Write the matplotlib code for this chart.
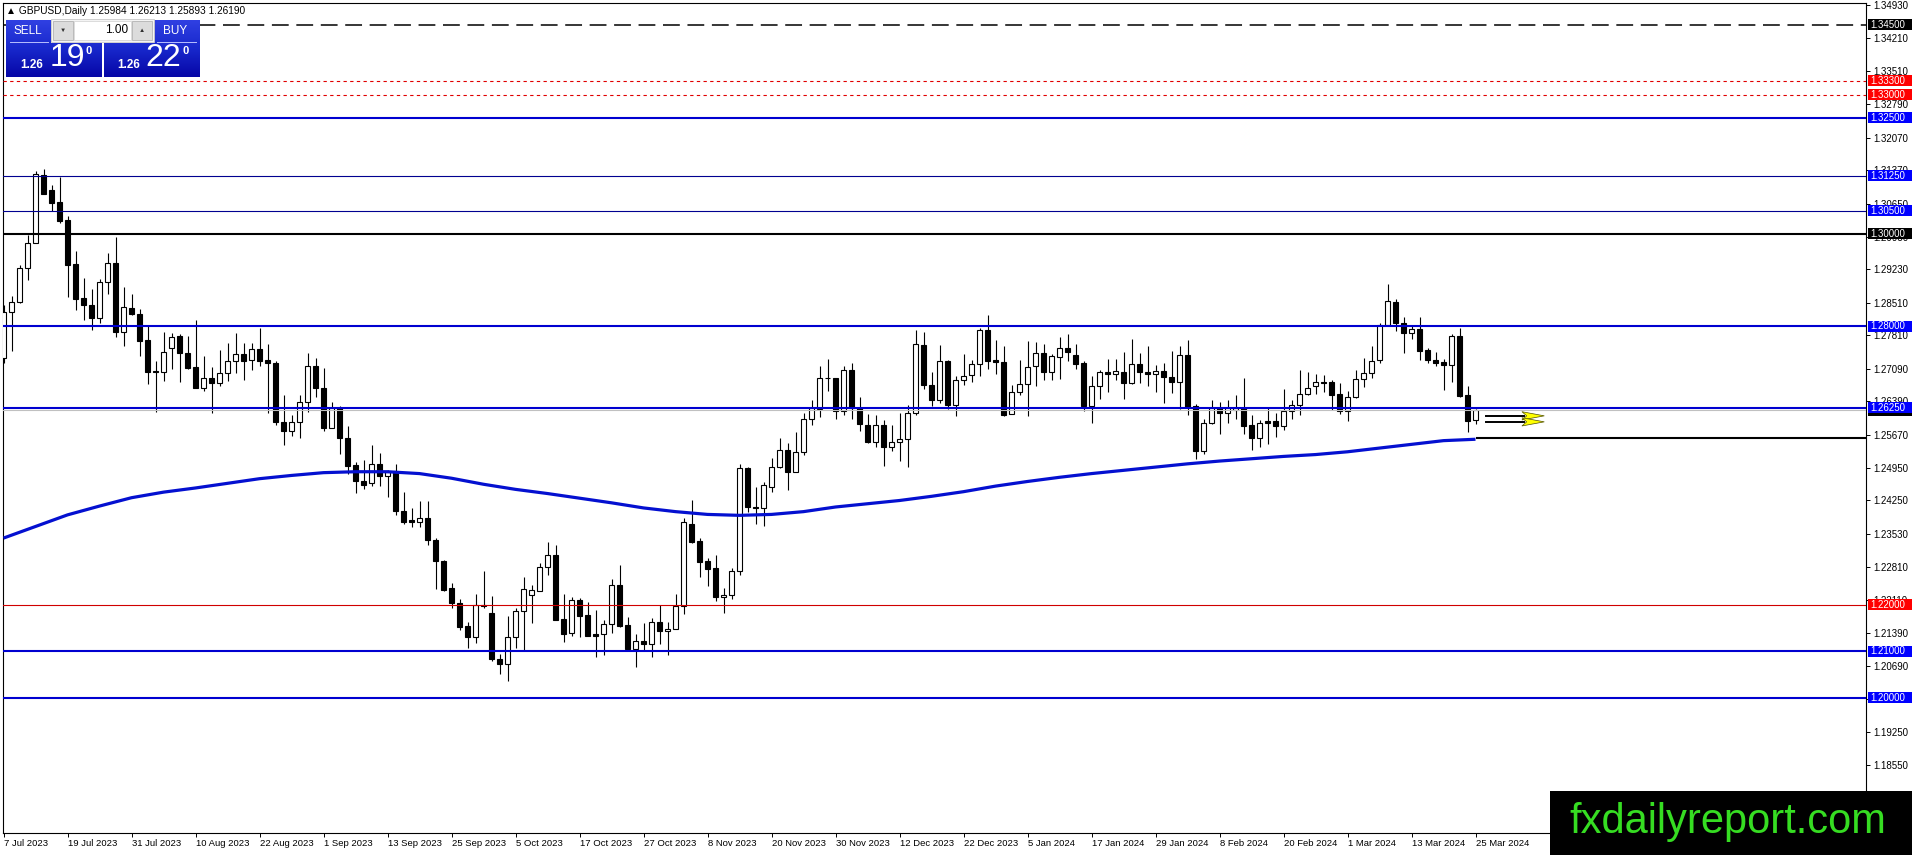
import numpy as np
import matplotlib
matplotlib.use('Agg')
import matplotlib.pyplot as plt
from matplotlib.patches import Rectangle, Polygon
from matplotlib.colors import LinearSegmentedColormap

plt.rcParams['font.family'] = ['Liberation Sans', 'DejaVu Sans']

# daily GBPUSD candles, 7 Jul 2023 .. 25 Mar 2024
opens = [1.2733, 1.2832, 1.2853, 1.2925, 1.2981, 1.3126, 1.3094, 1.3068, 1.3029, 1.2934,
         1.2861, 1.2846, 1.2819, 1.2895, 1.2936, 1.2789, 1.2839, 1.2828, 1.2771, 1.2705,
         1.2703, 1.2753, 1.2779, 1.2742, 1.2712, 1.2668, 1.2688, 1.2679, 1.2699, 1.2726,
         1.2741, 1.2728, 1.2751, 1.2728, 1.2722, 1.2595, 1.2574, 1.2595, 1.2638, 1.2714,
         1.2667, 1.2582, 1.2624, 1.2559, 1.2502, 1.2466, 1.2462, 1.2504, 1.2477, 1.2487,
         1.2403, 1.2383, 1.2378, 1.2387, 1.2340, 1.2295, 1.2236, 1.2205, 1.2154, 1.2130,
         1.2200, 1.2182, 1.2083, 1.2072, 1.2130, 1.2186, 1.2222, 1.2231, 1.2281, 1.2308,
         1.2169, 1.2139, 1.2211, 1.2178, 1.2137, 1.2137, 1.2159, 1.2243, 1.2157, 1.2105,
         1.2122, 1.2115, 1.2163, 1.2143, 1.2148, 1.2198, 1.2375, 1.2338, 1.2295, 1.2279,
         1.2217, 1.2222, 1.2272, 1.2495, 1.2410, 1.2408, 1.2455, 1.2498, 1.2534, 1.2487,
         1.2529, 1.2600, 1.2622, 1.2689, 1.2689, 1.2617, 1.2707, 1.2624, 1.2588, 1.2552,
         1.2588, 1.2540, 1.2551, 1.2557, 1.2613, 1.2760, 1.2674, 1.2641, 1.2726, 1.2631,
         1.2684, 1.2696, 1.2719, 1.2793, 1.2727, 1.2724, 1.2611, 1.2658, 1.2676, 1.2714,
         1.2743, 1.2703, 1.2735, 1.2753, 1.2739, 1.2722, 1.2629, 1.2671, 1.2702, 1.2697,
         1.2703, 1.2679, 1.2719, 1.2703, 1.2698, 1.2704, 1.2692, 1.2681, 1.2739, 1.2628,
         1.2531, 1.2592, 1.2624, 1.2613, 1.2620, 1.2624, 1.2588, 1.2559, 1.2596, 1.2597,
         1.2586, 1.2618, 1.2631, 1.2654, 1.2671, 1.2680, 1.2680, 1.2654, 1.2617, 1.2648,
         1.2686, 1.2699, 1.2727, 1.2804, 1.2852, 1.2807, 1.2787, 1.2794, 1.2750, 1.2728,
         1.2723, 1.2716, 1.2780, 1.2653, 1.25984]
highs = [1.2846, 1.2866, 1.2932, 1.2997, 1.3136, 1.3139, 1.3105, 1.3123, 1.3038, 1.2963,
         1.2904, 1.2880, 1.2902, 1.2958, 1.2992, 1.2886, 1.2870, 1.2837, 1.2803, 1.2726,
         1.2789, 1.2787, 1.2784, 1.2779, 1.2814, 1.2736, 1.2712, 1.2749, 1.2765, 1.2787,
         1.2765, 1.2765, 1.2797, 1.2762, 1.2726, 1.2653, 1.2610, 1.2653, 1.2743, 1.2732,
         1.2710, 1.2638, 1.2629, 1.2586, 1.2507, 1.2513, 1.2545, 1.2527, 1.2490, 1.2504,
         1.2444, 1.2408, 1.2423, 1.2423, 1.2344, 1.2297, 1.2248, 1.2212, 1.2164, 1.2224,
         1.2272, 1.2220, 1.2095, 1.2176, 1.2193, 1.2261, 1.2243, 1.2290, 1.2335, 1.2329,
         1.2224, 1.2217, 1.2214, 1.2207, 1.2189, 1.2168, 1.2255, 1.2286, 1.2173, 1.2137,
         1.2162, 1.2171, 1.2200, 1.2164, 1.2224, 1.2387, 1.2426, 1.2344, 1.2301, 1.2308,
         1.2236, 1.2279, 1.2504, 1.2497, 1.2455, 1.2464, 1.2516, 1.2560, 1.2548, 1.2572,
         1.2613, 1.2642, 1.2714, 1.2730, 1.2690, 1.2714, 1.2722, 1.2648, 1.2612, 1.2610,
         1.2599, 1.2588, 1.2613, 1.2631, 1.2793, 1.2788, 1.2703, 1.2760, 1.2728, 1.2694,
         1.2741, 1.2728, 1.2796, 1.2825, 1.2771, 1.2758, 1.2674, 1.2728, 1.2769, 1.2766,
         1.2763, 1.2741, 1.2778, 1.2784, 1.2763, 1.2725, 1.2694, 1.2707, 1.2730, 1.2730,
         1.2745, 1.2773, 1.2743, 1.2757, 1.2717, 1.2721, 1.2748, 1.2757, 1.2770, 1.2633,
         1.2600, 1.2641, 1.2638, 1.2641, 1.2653, 1.2689, 1.2610, 1.2599, 1.2624, 1.2613,
         1.2665, 1.2641, 1.2707, 1.2701, 1.2698, 1.2696, 1.2684, 1.2678, 1.2660, 1.2707,
         1.2732, 1.2758, 1.2807, 1.2892, 1.2859, 1.2820, 1.2801, 1.2820, 1.2753, 1.2744,
         1.2730, 1.2784, 1.2796, 1.2672, 1.26213]
lows = [1.2721, 1.2748, 1.2851, 1.2900, 1.2981, 1.3085, 1.3050, 1.3024, 1.2864, 1.2835,
        1.2813, 1.2792, 1.2807, 1.2870, 1.2778, 1.2758, 1.2825, 1.2736, 1.2677, 1.2616,
        1.2683, 1.2708, 1.2681, 1.2708, 1.2667, 1.2662, 1.2613, 1.2672, 1.2683, 1.2699,
        1.2685, 1.2706, 1.2715, 1.2613, 1.2588, 1.2545, 1.2563, 1.2559, 1.2615, 1.2649,
        1.2574, 1.2582, 1.2526, 1.2482, 1.2442, 1.2449, 1.2457, 1.2457, 1.2432, 1.2394,
        1.2375, 1.2367, 1.2367, 1.2329, 1.2234, 1.2229, 1.2193, 1.2146, 1.2108, 1.2118,
        1.2193, 1.2080, 1.2051, 1.2035, 1.2107, 1.2102, 1.2161, 1.2229, 1.2265, 1.2168,
        1.2119, 1.2133, 1.2130, 1.2134, 1.2087, 1.2092, 1.2140, 1.2152, 1.2102, 1.2067,
        1.2102, 1.2087, 1.2116, 1.2092, 1.2148, 1.2181, 1.2334, 1.2260, 1.2240, 1.2209,
        1.2183, 1.2212, 1.2265, 1.2401, 1.2375, 1.2371, 1.2443, 1.2495, 1.2447, 1.2487,
        1.2523, 1.2588, 1.2605, 1.2662, 1.2600, 1.2610, 1.2601, 1.2574, 1.2549, 1.2541,
        1.2500, 1.2531, 1.2511, 1.2497, 1.2610, 1.2665, 1.2628, 1.2636, 1.2622, 1.2607,
        1.2674, 1.2681, 1.2694, 1.2708, 1.2698, 1.2607, 1.2611, 1.2653, 1.2608, 1.2671,
        1.2685, 1.2684, 1.2687, 1.2725, 1.2709, 1.2617, 1.2593, 1.2644, 1.2658, 1.2684,
        1.2644, 1.2676, 1.2679, 1.2672, 1.2658, 1.2636, 1.2656, 1.2622, 1.2610, 1.2514,
        1.2526, 1.2590, 1.2569, 1.2593, 1.2600, 1.2569, 1.2533, 1.2540, 1.2547, 1.2561,
        1.2576, 1.2600, 1.2610, 1.2653, 1.2655, 1.2658, 1.2619, 1.2612, 1.2597, 1.2646,
        1.2669, 1.2689, 1.2721, 1.2801, 1.2791, 1.2743, 1.2773, 1.2727, 1.2722, 1.2714,
        1.2664, 1.2681, 1.2649, 1.2572, 1.25893]
closes = [1.2832, 1.2853, 1.2925, 1.2981, 1.3129, 1.3085, 1.3067, 1.3027, 1.2932, 1.2859,
          1.2846, 1.2819, 1.2895, 1.2936, 1.2789, 1.2843, 1.2827, 1.2769, 1.2703, 1.2703,
          1.2744, 1.2778, 1.2742, 1.2710, 1.2668, 1.2688, 1.2679, 1.2699, 1.2726, 1.2741,
          1.2726, 1.2751, 1.2726, 1.2721, 1.2595, 1.2574, 1.2595, 1.2638, 1.2714, 1.2667,
          1.2582, 1.2624, 1.2559, 1.2500, 1.2466, 1.2459, 1.2504, 1.2477, 1.2486, 1.2403,
          1.2378, 1.2379, 1.2387, 1.2339, 1.2294, 1.2232, 1.2204, 1.2153, 1.2130, 1.2200,
          1.2198, 1.2083, 1.2072, 1.2130, 1.2186, 1.2234, 1.2232, 1.2281, 1.2308, 1.2168,
          1.2137, 1.2211, 1.2177, 1.2134, 1.2134, 1.2159, 1.2243, 1.2155, 1.2105, 1.2122,
          1.2115, 1.2163, 1.2143, 1.2148, 1.2198, 1.2378, 1.2336, 1.2293, 1.2278, 1.2217,
          1.2222, 1.2272, 1.2495, 1.2410, 1.2408, 1.2459, 1.2498, 1.2534, 1.2487, 1.2529,
          1.2600, 1.2624, 1.2689, 1.2688, 1.2617, 1.2707, 1.2624, 1.2590, 1.2552, 1.2588,
          1.2541, 1.2551, 1.2557, 1.2613, 1.2762, 1.2673, 1.2641, 1.2726, 1.2631, 1.2685,
          1.2694, 1.2720, 1.2793, 1.2726, 1.2724, 1.2610, 1.2658, 1.2676, 1.2712, 1.2743,
          1.2703, 1.2737, 1.2753, 1.2746, 1.2720, 1.2629, 1.2671, 1.2702, 1.2697, 1.2704,
          1.2679, 1.2719, 1.2701, 1.2698, 1.2704, 1.2692, 1.2681, 1.2739, 1.2626, 1.2531,
          1.2592, 1.2624, 1.2613, 1.2624, 1.2624, 1.2586, 1.2559, 1.2593, 1.2593, 1.2586,
          1.2618, 1.2631, 1.2654, 1.2667, 1.2680, 1.2679, 1.2653, 1.2617, 1.2648, 1.2686,
          1.2699, 1.2726, 1.2804, 1.2854, 1.2807, 1.2787, 1.2794, 1.2748, 1.2728, 1.2722,
          1.2716, 1.2780, 1.2651, 1.2597, 1.26190]

# moving average read every 4 bars
ma_index = list(range(0, 185, 4))
ma_values = [1.2344, 1.2369, 1.2394, 1.2413, 1.2431, 1.2443, 1.2452, 1.2462, 1.2472, 1.2479,
             1.2485, 1.2487, 1.2487, 1.2483, 1.2473, 1.2460, 1.2449, 1.2440, 1.2430, 1.2420,
             1.2409, 1.2401, 1.2395, 1.2393, 1.2395, 1.2401, 1.2411, 1.2418, 1.2425, 1.2434,
             1.2444, 1.2456, 1.2466, 1.2475, 1.2483, 1.2490, 1.2497, 1.2504, 1.2510, 1.2515,
             1.2520, 1.2524, 1.2530, 1.2538, 1.2546, 1.2554, 1.2557]

date_labels = ['7 Jul 2023', '19 Jul 2023', '31 Jul 2023', '10 Aug 2023', '22 Aug 2023',
               '1 Sep 2023', '13 Sep 2023', '25 Sep 2023', '5 Oct 2023', '17 Oct 2023',
               '27 Oct 2023', '8 Nov 2023', '20 Nov 2023', '30 Nov 2023', '12 Dec 2023',
               '22 Dec 2023', '5 Jan 2024', '17 Jan 2024', '29 Jan 2024', '8 Feb 2024',
               '20 Feb 2024', '1 Mar 2024', '13 Mar 2024', '25 Mar 2024']

price_ticks = [1.34930, 1.34210, 1.33510, 1.32790, 1.32070, 1.31370, 1.30650, 1.29930,
               1.29230, 1.28510, 1.27810, 1.27090, 1.26390, 1.25670, 1.24950, 1.24250,
               1.23530, 1.22810, 1.22110, 1.21390, 1.20690, 1.19970, 1.19250, 1.18550]

# horizontal levels drawn on the chart
level_prices = [1.3450, 1.3330, 1.3300, 1.3250, 1.3125, 1.3050, 1.3000, 1.2800, 1.2625,
                1.2200, 1.2100, 1.2000]
level_kinds = ['black_dash', 'red_dot', 'red_dot', 'blue', 'blue_thin', 'blue_thin', 'black',
               'blue', 'blue', 'red_thin', 'blue', 'blue']
bid_price = 1.26190
support_price = 1.2560

symbol_text = 'GBPUSD,Daily 1.25984 1.26213 1.25893 1.26190'

W, H = 1912, 855
BLUE = '#0000d0'
STYLES = {
    'black_dash': dict(color='black', lw=1.1, ls=(0, (11, 5))),
    'red_dot': dict(color='#e00000', lw=0.8, ls=(0, (3, 3))),
    'blue': dict(color=BLUE, lw=1.5, ls='-'),
    'blue_thin': dict(color='#000090', lw=0.8, ls='-'),
    'black': dict(color='black', lw=1.5, ls='-'),
    'red_thin': dict(color='#d00000', lw=0.8, ls='-'),
}
BOX_COLORS = {'black_dash': 'black', 'red_dot': '#ff0000', 'blue': '#0000ff',
              'blue_thin': '#0000ff', 'black': 'black', 'red_thin': '#ff0000'}


def draw_candles(ax):
    o = np.array(opens)
    h = np.array(highs)
    l = np.array(lows)
    c = np.array(closes)
    x = np.arange(len(c))
    ax.vlines(x, l, h, color='black', lw=0.8, zorder=2)
    body_low = np.minimum(o, c)
    body_h = np.maximum(np.abs(c - o), 0.00004)
    faces = np.where(c >= o, 'white', 'black')
    ax.bar(x, body_h, 0.62, body_low, color=faces, edgecolor='black', lw=0.8, zorder=3)


def draw_levels(ax, xmax):
    ax.axhline(bid_price, color='#c0c0c0', lw=0.8, zorder=3.5)
    for p, kind in zip(level_prices, level_kinds):
        s = STYLES[kind]
        ax.axhline(p, color=s['color'], lw=s['lw'], ls=s['ls'], zorder=4)
    n = len(closes) - 1
    ax.hlines(support_price, n, xmax, color='black', lw=1.5, zorder=4)
    ax.plot(ma_index, ma_values, color='#0410d0', lw=2.3, zorder=5,
            solid_capstyle='butt', solid_joinstyle='round')

    # yellow double arrow next to the last bar
    for yy in (1.26078, 1.25935):
        ax.plot([n + 1.35, n + 6.0], [yy, yy], color='black', lw=1.4, zorder=6)
    for top, bot in ((1.26164, 1.25985), (1.26034, 1.25856)):
        mid = (top + bot) / 2
        tri = Polygon([(n + 5.8, top), (n + 8.6, mid), (n + 5.8, bot), (n + 6.4, mid)],
                      closed=True, fc='#ffff00', ec='#505000', lw=0.5, zorder=7)
        ax.add_patch(tri)


def draw_price_boxes(ax, ymin, ymax):
    trans = ax.get_yaxis_transform()
    hh = (ymax - ymin) / 830 * 5.5
    boxes = [(bid_price, 'black')]
    boxes += [(p, BOX_COLORS[k]) for p, k in zip(level_prices, level_kinds)]
    z = 10
    for p, col in boxes:
        ax.add_patch(Rectangle((1.0012, p - hh), 0.03, 2 * hh, transform=trans,
                               fc=col, ec='none', clip_on=False, zorder=z))
        ax.text(1.0025, p, f'{p:.5f}', transform=trans, va='center', ha='left',
                color='white', fontsize=7, clip_on=False, zorder=z + 0.5)
        z += 1


def draw_panel(ov):
    cmap = LinearSegmentedColormap.from_list('mt4', ['#3040e2', '#1828cc', '#0606a6'])
    grad = np.linspace(0, 1, 64).reshape(-1, 1)
    # sell / buy bodies
    for x0, x1, y0, y1 in ((6, 102, 43, 77), (104, 200, 43, 77), (6, 51, 20, 43), (154, 200, 20, 43)):
        g = grad * (y1 - y0) / 57 + (y0 - 20) / 57
        ov.imshow(g, extent=(x0, x1, y1, y0), cmap=cmap, vmin=0, vmax=1,
                  aspect='auto', zorder=2, interpolation='bilinear')
    for x0, x1 in ((10, 48), (157, 196)):
        ov.plot([x0, x1], [42.5, 42.5], color='#b8c0ff', lw=0.7, zorder=3)
    # lot box
    ov.add_patch(Rectangle((51, 19), 103, 23, fc='#f4f4f4', ec='#c8c8c8', lw=0.6, zorder=2))
    ov.add_patch(Rectangle((74, 21), 57, 19, fc='white', ec='#d0d0d0', lw=0.5, zorder=3))
    for bx in (53, 132):
        ov.add_patch(Rectangle((bx, 21), 20, 19, fc='#dcdcdc', ec='#a8a8a8', lw=0.5, zorder=3))
    ov.text(63, 30, '\u25BC', fontsize=4.5, ha='center', va='center', color='#303030', zorder=4)
    ov.text(142, 30, '\u25B2', fontsize=4.5, ha='center', va='center', color='#303030', zorder=4)
    ov.text(128, 30, '1.00', fontsize=8.5, ha='right', va='center', color='black', zorder=4)
    ov.text(28, 31, 'SELL', fontsize=8.5, ha='center', va='center', color='white', zorder=4)
    ov.text(175, 31, 'BUY', fontsize=8.5, ha='center', va='center', color='white', zorder=4)
    for xa, xb, xc, big in ((32, 67, 89, '19'), (129, 163, 186, '22')):
        ov.text(xa, 65, '1.26', fontsize=8.5, fontweight='bold', ha='center', va='center',
                color='white', zorder=4)
        ov.text(xb, 58, big, fontsize=23, ha='center', va='center', color='white', zorder=4)
        ov.text(xc, 51, '0', fontsize=8, fontweight='bold', ha='center', va='center',
                color='white', zorder=4)


def main():
    fig = plt.figure(figsize=(W / 100, H / 100), dpi=100)
    fig.patch.set_facecolor('white')
    left, right, top, bottom = 3, 1866, 3, 833
    ax = fig.add_axes([left / W, 1 - bottom / H, (right - left) / W, (bottom - top) / H])
    ymin, ymax = 1.17084, 1.34972
    xmin = (left - 3.5) / 8
    xmax = (right - 3.5) / 8

    draw_candles(ax)
    draw_levels(ax, xmax)

    ax.set_xlim(xmin, xmax)
    ax.set_ylim(ymin, ymax)
    for sp in ax.spines.values():
        sp.set_linewidth(0.8)
        sp.set_color('black')

    ax.yaxis.tick_right()
    ax.set_yticks(price_ticks)
    ax.set_yticklabels([f'{p:.5f}' for p in price_ticks])
    ax.tick_params(axis='y', length=3, width=0.7, pad=2, labelsize=7)
    ax.set_xticks(range(0, 8 * len(date_labels), 8))
    ax.set_xticklabels(date_labels, ha='left')
    ax.tick_params(axis='x', length=3, width=0.7, pad=1.5, labelsize=6.8)

    draw_price_boxes(ax, ymin, ymax)

    ov = fig.add_axes([0, 0, 1, 1])
    ov.set_zorder(5)
    ov.axis('off')
    ov.text(6, 11, '\u25B2 ' + symbol_text, fontsize=7.3, ha='left', va='center', color='black')
    draw_panel(ov)
    ov.add_patch(Rectangle((1550, 791), 362, 64, fc='black', ec='none', zorder=2))
    ov.text(1728, 822, 'fxdailyreport.com', fontsize=30, color='#36dd22', ha='center',
            va='center', zorder=3)
    ov.set_xlim(0, W)
    ov.set_ylim(H, 0)

    fig.savefig('out.png', dpi=100)


if __name__ == '__main__':
    main()
